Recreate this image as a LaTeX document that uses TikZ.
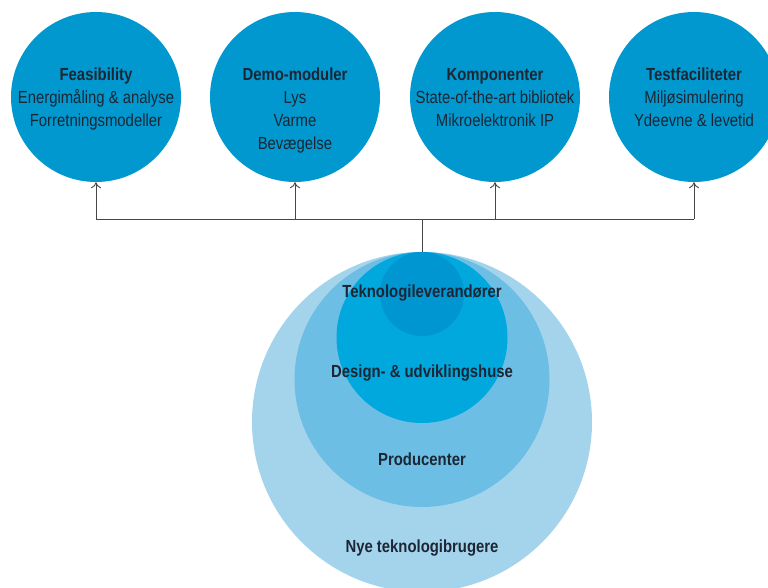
\documentclass[tikz,border=0pt]{standalone}
\usepackage{fontspec}
\setmainfont{Liberation Sans}[FakeStretch=0.85]
\usetikzlibrary{arrows.meta}
\definecolor{topblue}{RGB}{0,152,206}
\definecolor{ringA}{RGB}{164,212,236}
\definecolor{ringB}{RGB}{108,190,228}
\definecolor{ringC}{RGB}{0,168,222}
\definecolor{ringD}{RGB}{0,150,210}
\definecolor{inktext}{RGB}{28,38,52}
\definecolor{linegray}{RGB}{70,70,70}
\tikzset{
  topdisc/.style={circle, fill=topblue, draw=none, minimum size=170pt, inner sep=0pt},
  ring/.style={circle, draw=none, inner sep=0pt},
  toplabel/.style={anchor=north, align=center, inner sep=0pt, text=inktext,
    font=\fontsize{17.5}{23}\selectfont},
  ringlabel/.style={inner sep=0pt, text=inktext, font=\fontsize{17.5}{21}\selectfont\bfseries},
  link/.style={draw=linegray, line width=0.9pt},
  uparrow/.style={link, -{To[length=6pt,width=10pt]}}
}
\begin{document}
\begin{tikzpicture}[x=1pt, y=-1pt]
  \useasboundingbox (0,0) rectangle (768,588);
  \begin{scope}
    \clip (0,0) rectangle (768,588);

    % four service discs along the top
    \node[topdisc] (feas) at (96,97) {};
    \node[topdisc] (demo) at (295,97) {};
    \node[topdisc] (komp) at (495,97) {};
    \node[topdisc] (test) at (694,97) {};

    \node[toplabel] (feasT) at (96,68) {\textbf{Feasibility}\\Energimåling \& analyse\\Forretningsmodeller};
    \node[toplabel] (demoT) at (295,68) {\textbf{Demo-moduler}\\Lys\\Varme\\Bevægelse};
    \node[toplabel] (kompT) at (495,68) {\textbf{Komponenter}\\State-of-the-art bibliotek\\Mikroelektronik IP};
    \node[toplabel] (testT) at (694,68) {\textbf{Testfaciliteter}\\Miljøsimulering\\Ydeevne \& levetid};

    % nested user circles, all touching at the top
    \node[ring, fill=ringA, minimum size=340pt] (users) at (422,422) {};
    \node[ring, fill=ringB, minimum size=255pt] (prod) at (422,379.5) {};
    \node[ring, fill=ringC, minimum size=171pt] (design) at (422,337.5) {};
    \node[ring, fill=ringD, minimum size=84pt] (tech) at (422,294) {};

    \node[ringlabel] (techT) at (422,293) {Teknologileverandører};
    \node[ringlabel] (designT) at (422,373) {Design- \& udviklingshuse};
    \node[ringlabel] (prodT) at (422,459) {Producenter};
    \node[ringlabel] (usersT) at (422,548) {Nye teknologibrugere};

    % distribution bar
    \coordinate (hub) at (422,219);
    \draw[link] (users.north) -- (hub);
    \draw[link] (feas.south |- hub) -- (test.south |- hub);
    \draw[uparrow] (feas.south |- hub) -- (feas.south);
    \draw[uparrow] (demo.south |- hub) -- (demo.south);
    \draw[uparrow] (komp.south |- hub) -- (komp.south);
    \draw[uparrow] (test.south |- hub) -- (test.south);
  \end{scope}
\end{tikzpicture}
\end{document}
